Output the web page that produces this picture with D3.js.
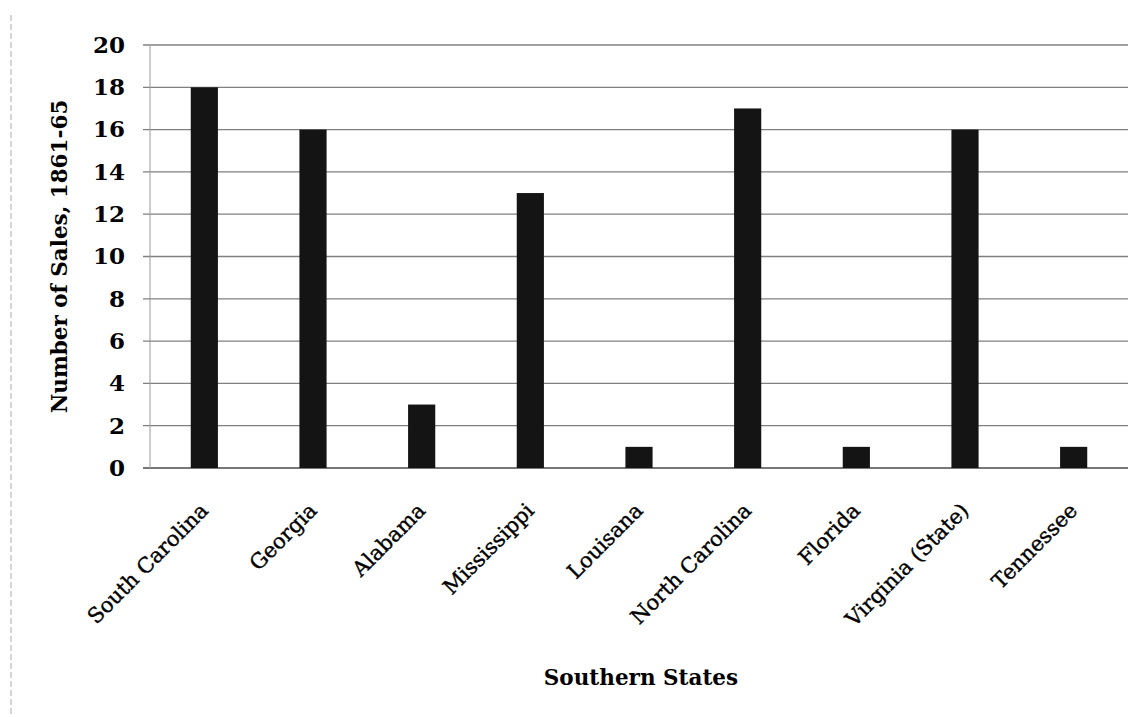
<!DOCTYPE html>
<html>
<head>
<meta charset="utf-8">
<script src="https://cdn.jsdelivr.net/npm/d3@7"></script>
<style>
  body { margin: 0; background: #fff; }
  svg { display: block; }
  text { font-family: "DejaVu Serif", "Liberation Serif", serif; fill: #000; }
</style>
</head>
<body>
<svg id="chart" width="1144" height="717"></svg>
<script>
// Data
const states = [
  "South Carolina", "Georgia", "Alabama", "Mississippi", "Louisana",
  "North Carolina", "Florida", "Virginia (State)", "Tennessee"
];
const sales = [18, 16, 3, 13, 1, 17, 1, 16, 1];
const yTicks = [0, 2, 4, 6, 8, 10, 12, 14, 16, 18, 20];

const svg = d3.select("#chart");
const margin = { left: 150, right: 16, top: 45, bottom: 249 };
const width = 1144 - margin.left - margin.right;
const height = 717 - margin.top - margin.bottom;

const g = svg.append("g").attr("transform", `translate(${margin.left},${margin.top})`);

//Scales
const x = d3.scaleBand().domain(states).range([0, width]).paddingInner(0.75).paddingOuter(0.375);
const y = d3.scaleLinear().domain([0, 20]).range([height, 0]);

//Gridlines
g.append("g")
  .selectAll("line")
  .data(yTicks)
  .join("line")
  .attr("x1", -7)
  .attr("x2", width)
  .attr("y1", (d) => y(d))
  .attr("y2", (d) => y(d))
  .attr("stroke", (d) => (d === 0 ? "#4a4a4a" : "#808080"))
  .attr("stroke-width", 1.3);

//Vertical axis line
g.append("line")
  .attr("x1", 0).attr("x2", 0)
  .attr("y1", 0).attr("y2", height)
  .attr("stroke", "#9a9a9a")
  .attr("stroke-width", 1);

//Bars
g.selectAll("rect.bar")
  .data(states.map((s, i) => ({ state: s, value: sales[i] })))
  .join("rect")
  .attr("class", "bar")
  .attr("x", (d) => x(d.state))
  .attr("width", x.bandwidth())
  .attr("y", (d) => y(d.value))
  .attr("height", (d) => height - y(d.value))
  .attr("fill", "#141414");

//Y axis labels
const yAxis = g.append("g")
  .call(d3.axisLeft(y).tickValues(yTicks).tickSize(0).tickPadding(25));
yAxis.select(".domain").remove();
yAxis.selectAll("text")
  .attr("font-family", "DejaVu Serif, serif")
  .attr("font-size", 23)
  .attr("font-weight", "bold")
  .attr("fill", "#000");

//X axis labels
const xAxis = g.append("g")
  .attr("transform", `translate(0,${height})`)
  .call(d3.axisBottom(x).tickSize(0).tickPadding(0));
xAxis.select(".domain").remove();
xAxis.selectAll("text")
  .attr("font-family", "DejaVu Serif, serif")
  .attr("font-size", 21)
  .attr("fill", "#000")
  .attr("stroke", "#000")
  .attr("stroke-width", 0.4)
  .attr("text-anchor", "end")
  .attr("dy", 0)
  .attr("transform", "translate(5,44) rotate(-45)");

//Axis titles
svg.append("text")
  .attr("transform", `translate(67,${margin.top + height / 2}) rotate(-90)`)
  .attr("text-anchor", "middle")
  .attr("font-size", 21.5)
  .attr("font-weight", "bold")
  .text("Number of Sales, 1861-65");

svg.append("text")
  .attr("x", 641)
  .attr("y", 685)
  .attr("text-anchor", "middle")
  .attr("font-size", 21.5)
  .attr("font-weight", "bold")
  .text("Southern States");

//Faint left border from the page
svg.append("line")
  .attr("x1", 11).attr("x2", 11)
  .attr("y1", 15).attr("y2", 717)
  .attr("stroke", "#aaa")
  .attr("stroke-dasharray", "6,3");
</script>
</body>
</html>
